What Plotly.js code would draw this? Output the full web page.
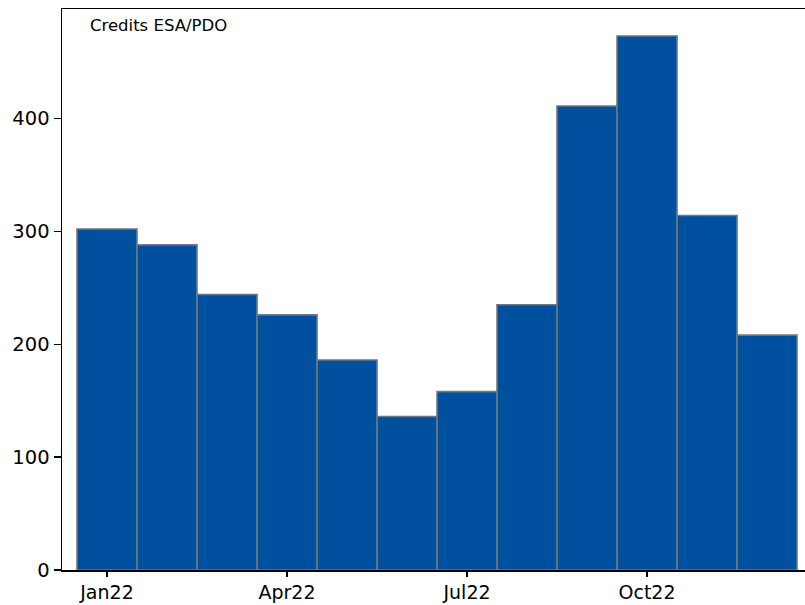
<!DOCTYPE html>
<html>
<head>
<meta charset="utf-8">
<script src="https://cdn.plot.ly/plotly-3.0.1.min.js"></script>
<style>html,body{margin:0;padding:0;background:#fff}#chart{width:805px;height:605px}</style>
</head>
<body>
<div id="chart"></div>
<script>
const months = ["Jan22","Feb22","Mar22","Apr22","May22","Jun22","Jul22","Aug22","Sep22","Oct22","Nov22","Dec22"];
const counts = [302, 288, 244, 226, 186, 136, 158, 235, 411, 473, 314, 208];
const tickLabels = ["Jan22","Apr22","Jul22","Oct22"];
const tickIdx = tickLabels.map(t => months.indexOf(t));
const xIdx = months.map((m, i) => i);

const trace = {
  type: "bar",
  x: xIdx,
  y: counts,
  width: 1,
  text: months,
  hoverinfo: "text+y",
  textposition: "none",
  marker: {color: "#0050A0", line: {color: "#6b7885", width: 1.6}}
};

const layout = {
  width: 805, height: 605,
  margin: {l: 62, r: 0, t: 9, b: 35},
  paper_bgcolor: "#fff", plot_bgcolor: "#fff",
  showlegend: false,
  bargap: 0,
  font: {family: "DejaVu Sans", color: "#000"},
  xaxis: {
    range: [-0.75, 11.633],
    tickvals: tickIdx, ticktext: tickLabels,
    showgrid: false, zeroline: false,
    showline: true, linecolor: "#000", linewidth: 1.5, mirror: true,
    ticks: "outside", ticklen: 5, tickwidth: 1.3, tickcolor: "#000",
    tickfont: {size: 19, family: "DejaVu Sans", color: "#000"}
  },
  yaxis: {
    range: [0, 496.9],
    tickvals: [0, 100, 200, 300, 400],
    showgrid: false, zeroline: false,
    showline: true, linecolor: "#000", linewidth: 1.5,
    ticks: "outside", ticklen: 7, tickwidth: 1.3, tickcolor: "#000",
    tickfont: {size: 19.5, family: "DejaVu Sans", color: "#000"}
  },
  annotations: [{
    text: "Credits ESA/PDO", xref: "paper", yref: "paper",
    x: 0.035, y: 0.97, xanchor: "left", yanchor: "middle",
    showarrow: false, font: {size: 16.5, family: "DejaVu Sans", color: "#000"}
  }]
};

Plotly.newPlot("chart", [trace], layout, {displayModeBar: false, staticPlot: true});
</script>
</body>
</html>
